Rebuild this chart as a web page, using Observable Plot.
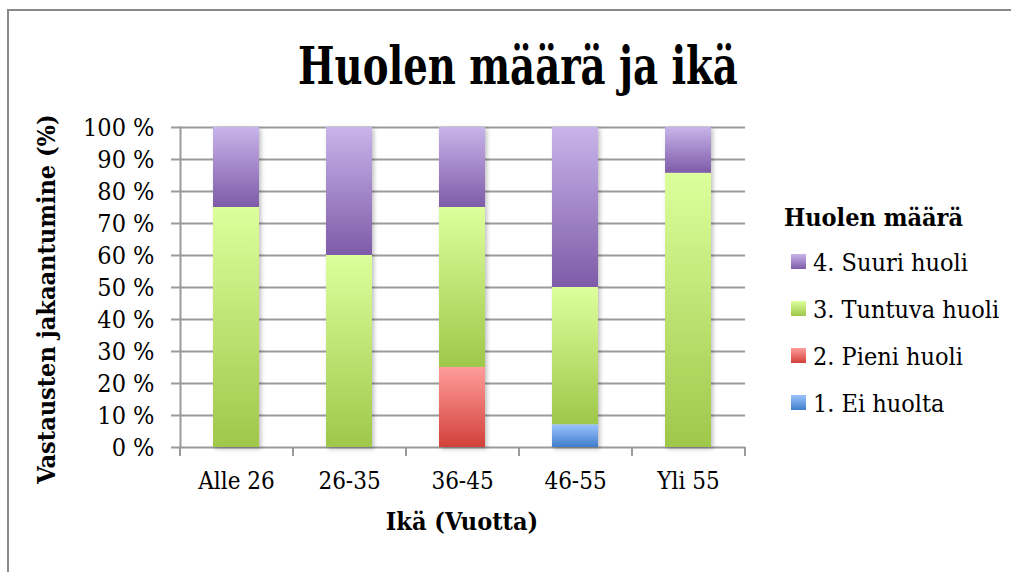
<!DOCTYPE html>
<html>
<head>
<meta charset="utf-8">
<script src="https://cdn.jsdelivr.net/npm/d3@7"></script>
<script src="https://cdn.jsdelivr.net/npm/@observablehq/plot@0.6"></script>
<style>
  html, body { margin: 0; padding: 0; background: #fff; }
  #wrap { position: relative; width: 1011px; height: 572px; overflow: hidden; font-family: "DejaVu Serif Condensed", "DejaVu Serif", serif; font-stretch: condensed; color: #000; }
  #frame { position: absolute; left: 7px; top: 9px; width: 1100px; height: 700px; border: 2px solid #8a8a8a; box-sizing: border-box; }
  #chart { position: absolute; left: 0; top: 0; }
  .title { position: absolute; left: 518px; top: 65px; transform: translate(-50%, -50%) scaleX(0.81); white-space: nowrap; font-weight: bold; font-size: 53px; line-height: 60px; }
  .ylab { position: absolute; left: 46px; top: 299px; transform: translate(-50%, -50%) rotate(-90deg); white-space: nowrap; font-weight: bold; font-size: 25px; }
  .xlab { position: absolute; left: 462px; top: 521px; transform: translate(-50%, -50%); white-space: nowrap; font-weight: bold; font-size: 25px; }
  .legend { position: absolute; left: 784px; top: 203px; }
  .legend .lt { font-weight: bold; font-size: 25px; line-height: 30px; margin-bottom: 17px; }
  .legend .it { position: relative; height: 47px; font-size: 25px; line-height: 25px; white-space: nowrap; }
  .legend .sw { position: absolute; left: 7px; top: 4px; width: 15px; height: 15px; }
  .legend .tx { position: absolute; left: 29px; top: 0; }
</style>
</head>
<body>
<div id="wrap">
  <div id="frame"></div>
  <div id="chart"></div>
  <div class="title">Huolen määrä ja ikä</div>
  <div class="ylab">Vastausten jakaantumine (%)</div>
  <div class="xlab">Ikä (Vuotta)</div>
  <div class="legend" id="legend"></div>
</div>
<script>
// ---- data ----
const categories = ["Alle 26", "26-35", "36-45", "46-55", "Yli 55"];
const seriesNames = ["1. Ei huolta", "2. Pieni huoli", "3. Tuntuva huoli", "4. Suuri huoli"];
const eiHuolta     = [0, 0, 0, 7.1, 0];
const pieniHuoli   = [0, 0, 25, 0, 0];
const tuntuvaHuoli = [75, 60, 50, 42.9, 85.7];
const suuriHuoli   = [25, 40, 25, 50, 14.3];
const yTicks = [0, 10, 20, 30, 40, 50, 60, 70, 80, 90, 100];
const legendTitle = "Huolen määrä";

// colours (top, bottom of gradient)
const gradTop    = ["#9cc3ff", "#ff9d9a", "#ddff9c", "#c8b4ea"];
const gradBottom = ["#3f7ecb", "#d3403b", "#9fc74a", "#7e5ba8"];
const gradIds = ["gBlue", "gRed", "gGreen", "gPurple"];

const seriesValues = [eiHuolta, pieniHuoli, tuntuvaHuoli, suuriHuoli];
const rows = [];
seriesValues.forEach((vals, si) => {
  categories.forEach((c, ci) => rows.push({ cat: c, series: seriesNames[si], value: vals[ci] }));
});

const W = 1011, H = 572, ML = 180, MR = 266, MT = 127, MB = 125;
const step = (W - ML - MR) / categories.length;
const gridColor = "#9a9a9a";
const fontFam = '"DejaVu Serif Condensed", "DejaVu Serif", serif';

const plot = Plot.plot({
  width: W, height: H,
  marginLeft: ML, marginRight: MR, marginTop: MT, marginBottom: MB,
  style: { fontFamily: fontFam, background: "transparent", overflow: "visible" },
  x: { domain: categories, paddingInner: 0.59, paddingOuter: 0.295 },
  y: { domain: [0, 100] },
  color: { domain: seriesNames, range: gradIds.map(id => `url(#${id})`) },
  marks: [
    Plot.ruleY(yTicks, { stroke: gridColor, strokeWidth: 2 }),
    Plot.barY(rows, Plot.stackY({ x: "cat", y: "value", fill: "series" })),
    Plot.axisY({ ticks: yTicks, tickSize: 9, tickPadding: 17, stroke: gridColor, strokeWidth: 2, strokeOpacity: 1,
                 tickFormat: d => d + " %", fontSize: 25, label: null, fill: "#000" }),
    Plot.frame({ anchor: "left", stroke: gridColor, strokeWidth: 2 }),
    Plot.axisX({ tickSize: 0, tickPadding: 24, fontSize: 24, label: null, fill: "#000" }),
    Plot.axisX({ tickSize: 9, text: null, dx: -step / 2, stroke: gridColor, strokeWidth: 2, strokeOpacity: 1, label: null }),
    Plot.axisX({ ticks: [categories[categories.length - 1]], tickSize: 9, text: null, dx: step / 2, stroke: gridColor, strokeWidth: 2, strokeOpacity: 1, label: null })
  ]
});

// gradient + shadow defs
const ns = "http://www.w3.org/2000/svg";
const defs = document.createElementNS(ns, "defs");
gradIds.forEach((id, i) => {
  const lg = document.createElementNS(ns, "linearGradient");
  lg.setAttribute("id", id);
  lg.setAttribute("x1", "0"); lg.setAttribute("y1", "0");
  lg.setAttribute("x2", "0"); lg.setAttribute("y2", "1");
  [["0%", gradTop[i]], ["100%", gradBottom[i]]].forEach(([o, c]) => {
    const s = document.createElementNS(ns, "stop");
    s.setAttribute("offset", o); s.setAttribute("stop-color", c);
    lg.appendChild(s);
  });
  defs.appendChild(lg);
});
const filt = document.createElementNS(ns, "filter");
filt.setAttribute("id", "shadow");
filt.setAttribute("x", "-20%"); filt.setAttribute("y", "-5%");
filt.setAttribute("width", "140%"); filt.setAttribute("height", "115%");
const ds = document.createElementNS(ns, "feDropShadow");
ds.setAttribute("dx", "2"); ds.setAttribute("dy", "2");
ds.setAttribute("stdDeviation", "2"); ds.setAttribute("flood-color", "#000");
ds.setAttribute("flood-opacity", "0.25");
filt.appendChild(ds);
defs.appendChild(filt);
plot.insertBefore(defs, plot.firstChild);
const barG = plot.querySelector('g[aria-label="bar"]');
if (barG) barG.setAttribute("filter", "url(#shadow)");

document.getElementById("chart").appendChild(plot);

// legend (top to bottom: reverse series order)
const leg = document.getElementById("legend");
const lt = document.createElement("div");
lt.className = "lt"; lt.textContent = legendTitle;
leg.appendChild(lt);
for (let i = seriesNames.length - 1; i >= 0; i--) {
  const it = document.createElement("div"); it.className = "it";
  const sw = document.createElement("div"); sw.className = "sw";
  sw.style.background = `linear-gradient(${gradTop[i]}, ${gradBottom[i]})`;
  const tx = document.createElement("div"); tx.className = "tx"; tx.textContent = seriesNames[i];
  it.appendChild(sw); it.appendChild(tx); leg.appendChild(it);
}
</script>
</body>
</html>
